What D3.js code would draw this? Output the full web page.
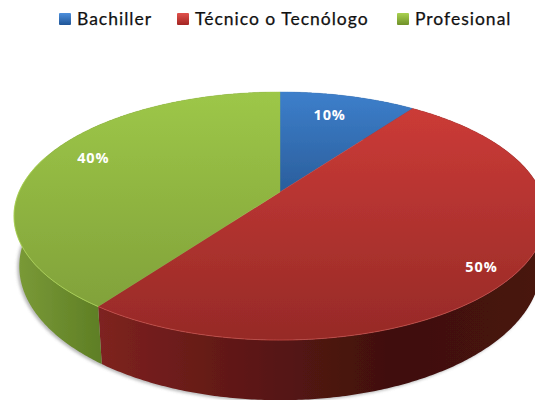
<!DOCTYPE html>
<html><head><meta charset="utf-8">
<script src="https://cdn.jsdelivr.net/npm/d3@7/dist/d3.min.js"></script>
<style>html,body{margin:0;padding:0;background:#fff}svg{display:block}</style>
</head><body><svg id="c" width="535" height="400"></svg>
<script>
const categories = ["Bachiller", "Técnico o Tecnólogo", "Profesional"];
const values = [10, 50, 40];
const labels = ["10%", "50%", "40%"];
const topStops = [["#3d7fcb","#2a5e9c"],["#cf3c38","#962a27"],["#9dc748","#7d9c38"]];
const sideStops = [
  [["#2a5e9c",0],["#1d4470",1]],
  [["#7e2220",0],["#5c1714",0.35],["#3f100e",0.68],["#481311",1]],
  [["#7b9b38",0],["#6c8c2e",0.5],["#5d7d24",1]]
];
const rimColors = ["#5f9be0","#e0605a","#b4dc5c"];
const swatchStops = [["#4d8fdc","#1f5597"],["#e0514c","#a32623"],["#a9d150","#6f9128"]];
const labelRadius = [0.77, 0.886, 0.817];
const labelShift = [-1.6, 3, 4];

const W = 535, H = 400;
const cx = 280, cy = 192, A = 261, B = 119.4, K = 0.1935, DEPTH = 48.5, NARROW = 0.02;
const svg = d3.select("#c");
const defs = svg.append("defs");
defs.append("filter").attr("id","soft").attr("x","-5%").attr("y","-5%").attr("width","110%").attr("height","110%")
  .append("feGaussianBlur").attr("stdDeviation",0.55);
defs.append("filter").attr("id","shadow").attr("x","-10%").attr("y","-10%").attr("width","120%").attr("height","120%")
  .append("feGaussianBlur").attr("stdDeviation",1.6);

// perspective projection of the unit disk; angle clockwise from 12 o'clock
const proj = (a, r = 1, drop = 0) => {
  const u = r * Math.sin(a), v = -r * Math.cos(a), w = 1 - K * v;
  const narrow = 1 - NARROW * (drop / DEPTH);
  return [cx + narrow * A * u / w, cy + B * v / w + drop / w];
};
const line = d3.line();
const arcPts = (a0, a1, drop) => {
  const n = Math.max(2, Math.ceil((a1 - a0) / 0.01));
  return d3.range(n + 1).map(i => proj(a0 + (a1 - a0) * i / n, 1, drop));
};

const slices = d3.pie().sort(null).value(d => d)(values);

const g = svg.append("g").attr("filter","url(#soft)");

// shadow
g.append("path")
  .attr("d", line(arcPts(Math.PI * 0.45, Math.PI * 1.55, DEPTH).map(p => [p[0] - 2, p[1] + 1.5])))
  .attr("fill","#8a8a8a").attr("opacity",0.6).attr("filter","url(#shadow)");

// sides
slices.forEach((s, i) => {
  const id = "side" + i;
  const grad = defs.append("linearGradient").attr("id", id).attr("gradientUnits","userSpaceOnUse")
    .attr("x1", i === 1 ? 100 : 14).attr("x2", i === 1 ? 535 : 105).attr("y1",0).attr("y2",0);
  sideStops[i].forEach(st => grad.append("stop").attr("offset", st[1]).attr("stop-color", st[0]));
  const pts = arcPts(s.startAngle, s.endAngle, 0).concat(arcPts(s.startAngle, s.endAngle, DEPTH).reverse());
  g.append("path").attr("d", line(pts) + "Z").attr("fill", `url(#${id})`);
});

// tops
slices.forEach((s, i) => {
  const id = "top" + i;
  const grad = defs.append("linearGradient").attr("id", id).attr("gradientUnits","userSpaceOnUse")
    .attr("x1",0).attr("x2",0).attr("y1",92).attr("y2", i === 0 ? 192 : 340);
  topStops[i].forEach((c, j) => grad.append("stop").attr("offset", j).attr("stop-color", c));
  const pts = [[cx, cy]].concat(arcPts(s.startAngle, s.endAngle, 0));
  g.append("path").attr("d", line(pts) + "Z").attr("fill", `url(#${id})`)
    .attr("stroke", `url(#${id})`).attr("stroke-width", 0.4);
});

// front rim highlight
slices.forEach((s, i) => {
  const a0 = Math.max(s.startAngle, Math.PI * 0.62), a1 = Math.min(s.endAngle, Math.PI * 1.6);
  if (a1 <= a0) return;
  g.append("path").attr("d", line(arcPts(a0, a1, 0))).attr("fill","none")
    .attr("stroke", rimColors[i]).attr("stroke-width", 1).attr("opacity", i === 1 ? 0.5 : 0.75);
});

// data labels
slices.forEach((s, i) => {
  const mid = (s.startAngle + s.endAngle) / 2 + labelShift[i] * Math.PI / 180;
  const p = proj(mid, labelRadius[i]);
  svg.append("text").attr("x", p[0]).attr("y", p[1]).attr("dy","0.35em")
    .attr("text-anchor","middle").attr("fill","#fff").attr("font-weight","bold")
    .attr("font-family","'Open Sans', sans-serif").attr("font-size",14.5).attr("letter-spacing",0.9).text(labels[i]);
});

// legend
const legendX = d3.scaleOrdinal().domain(categories).range([59, 177, 397]);
swatchStops.forEach((st, i) => {
  const grad = defs.append("linearGradient").attr("id","sw"+i).attr("x1",0).attr("x2",0).attr("y1",0).attr("y2",1);
  st.forEach((c, j) => grad.append("stop").attr("offset", j).attr("stop-color", c));
});
const legend = svg.append("g").selectAll("g").data(categories).join("g")
  .attr("transform", d => `translate(${legendX(d)},13)`);
legend.append("rect").attr("width",12).attr("height",12).attr("rx",1)
  .attr("fill",(d,i)=>`url(#sw${i})`).attr("filter","url(#soft)");
legend.append("text").attr("x",18).attr("y",11.5).attr("fill","#111")
  .attr("stroke","#111").attr("stroke-width",0.25)
  .attr("font-family","Lato, 'Open Sans', sans-serif").attr("font-size",17.5).attr("letter-spacing",1)
  .text(d => d);
</script></body></html>
